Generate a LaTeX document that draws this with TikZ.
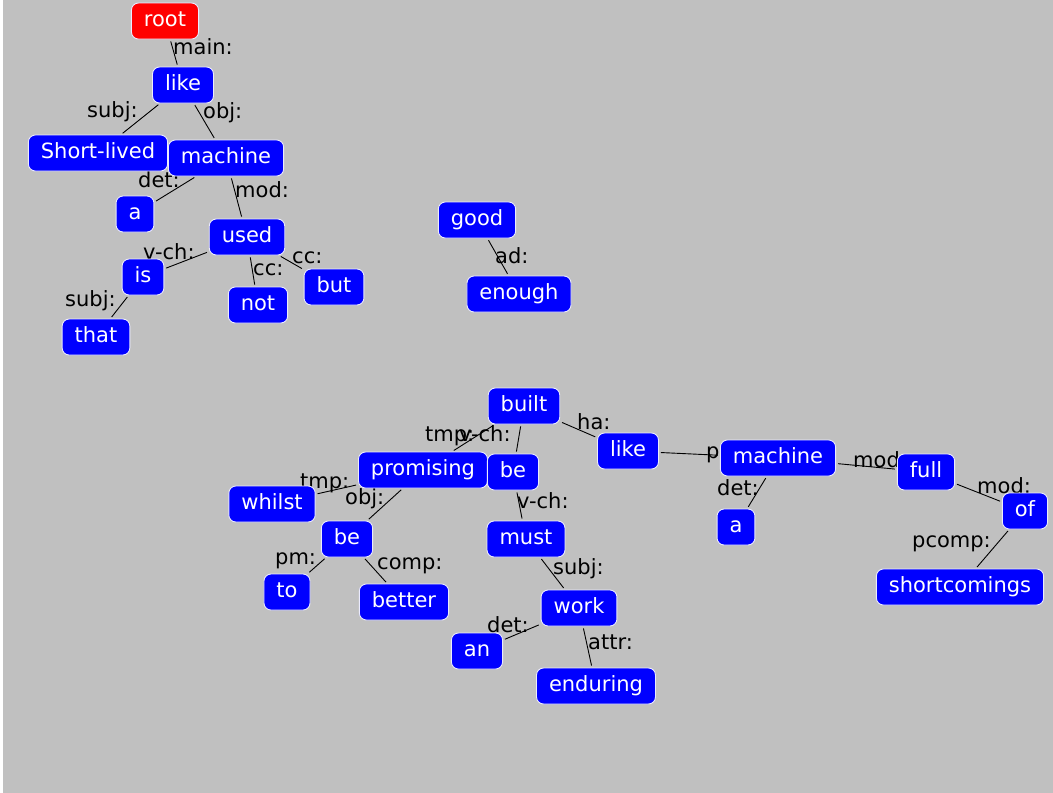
\documentclass[tikz,border=0pt]{standalone}
\usepackage{fontspec}
\setmainfont{DejaVu Sans}
\definecolor{bg}{RGB}{192,192,192}
\definecolor{nodeblue}{RGB}{0,0,255}
\definecolor{nodered}{RGB}{255,0,0}
\definecolor{rim}{RGB}{235,235,255}
\tikzset{
  word/.style={rectangle, rounded corners=7pt, fill=nodeblue, draw=rim, line width=0.9pt,
    text=white, font=\fontsize{21}{25}\selectfont, inner xsep=12.5pt, inner ysep=0pt,
    minimum height=36pt, text height=15pt, text depth=4pt},
  rootword/.style={word, fill=nodered},
  rel/.style={anchor=base west, inner sep=0pt, font=\fontsize{21}{25}\selectfont, text=black},
  dep/.style={draw=black, line width=0.9pt, shorten <=2pt, shorten >=2pt}
}
\begin{document}
\begin{tikzpicture}[x=1pt,y=-1pt]
\fill[bg] (0,0) rectangle (1053,793);
\fill[white] (0,0) rectangle (3,793);
\useasboundingbox (0,0) rectangle (1053,793);

% relation labels (drawn below the word boxes)
\node[rel] (l-main) at (173,54) {main:};
\node[rel] (l-subj1) at (87,117) {subj:};
\node[rel] (l-obj1) at (203,118) {obj:};
\node[rel] (l-det1) at (138,187) {det:};
\node[rel] (l-mod1) at (235,197) {mod:};
\node[rel] (l-vch1) at (143,259) {v-ch:};
\node[rel] (l-cc1) at (253,275) {cc:};
\node[rel] (l-cc2) at (292,263) {cc:};
\node[rel] (l-subj2) at (65,306) {subj:};
\node[rel] (l-ad) at (495,263) {ad:};
\node[rel] (l-tmp1) at (425,441) {tmp:};
\node[rel] (l-vch2) at (459,441) {v-ch:};
\node[rel] (l-ha) at (577,429) {ha:};
\node[rel] (l-pcomp1) at (706,458) {pcomp:};
\node[rel] (l-tmp2) at (300,488) {tmp:};
\node[rel] (l-obj2) at (345,504) {obj:};
\node[rel] (l-pm) at (275,564) {pm:};
\node[rel] (l-comp) at (377,569) {comp:};
\node[rel] (l-vch3) at (517,508) {v-ch:};
\node[rel] (l-det2) at (717,495) {det:};
\node[rel] (l-mod2) at (853,467) {mod:};
\node[rel] (l-mod3) at (977,493) {mod:};
\node[rel] (l-pcomp2) at (912,547) {pcomp:};
\node[rel] (l-subj3) at (553,574) {subj:};
\node[rel] (l-det3) at (487,632) {det:};
\node[rel] (l-attr) at (588,649) {attr:};

% word boxes
\node[rootword] (root) at (165,21) {root};
\node[word] (like1) at (183,85) {like};
\node[word] (short) at (98,153) {Short-lived};
\node[word] (mach1) at (226,158) {machine};
\node[word] (a1) at (135,214) {a};
\node[word] (used) at (247,237) {used};
\node[word] (is) at (143,277) {is};
\node[word] (not) at (258,305) {not};
\node[word] (but) at (334,287) {but};
\node[word] (that) at (96,337) {that};
\node[word] (good) at (477,220) {good};
\node[word] (enough) at (519,294) {enough};
\node[word] (built) at (524,406) {built};
\node[word] (like2) at (628,451) {like};
\node[word] (mach2) at (778,458) {machine};
\node[word] (a2) at (736,527) {a};
\node[word] (full) at (926,472) {full};
\node[word] (of) at (1025,511) {of};
\node[word] (short2) at (960,587) {shortcomings};
\node[word] (prom) at (423,470) {promising};
\node[word] (be1) at (513,472) {be};
\node[word] (whilst) at (272,504) {whilst};
\node[word] (be2) at (347,539) {be};
\node[word] (to) at (287,592) {to};
\node[word] (better) at (404,602) {better};
\node[word] (must) at (526,539) {must};
\node[word] (work) at (579,608) {work};
\node[word] (an) at (477,651) {an};
\node[word] (enduring) at (596,686) {enduring};

% dependency connectors
\draw[dep] (root) -- (like1);
\draw[dep] (like1) -- (short);
\draw[dep] (like1) -- (mach1);
\draw[dep] (mach1) -- (a1);
\draw[dep] (mach1) -- (used);
\draw[dep] (used) -- (is);
\draw[dep] (used) -- (not);
\draw[dep] (used) -- (but);
\draw[dep] (is) -- (that);
\draw[dep] (good) -- (enough);
\draw[dep] (built) -- (prom);
\draw[dep] (built) -- (be1);
\draw[dep] (built) -- (like2);
\draw[dep] (like2) -- (mach2);
\draw[dep] (mach2) -- (a2);
\draw[dep] (mach2) -- (full);
\draw[dep] (full) -- (of);
\draw[dep] (of) -- (short2);
\draw[dep] (prom) -- (whilst);
\draw[dep] (prom) -- (be2);
\draw[dep] (be2) -- (to);
\draw[dep] (be2) -- (better);
\draw[dep] (be1) -- (must);
\draw[dep] (must) -- (work);
\draw[dep] (work) -- (an);
\draw[dep] (work) -- (enduring);
\end{tikzpicture}
\end{document}
